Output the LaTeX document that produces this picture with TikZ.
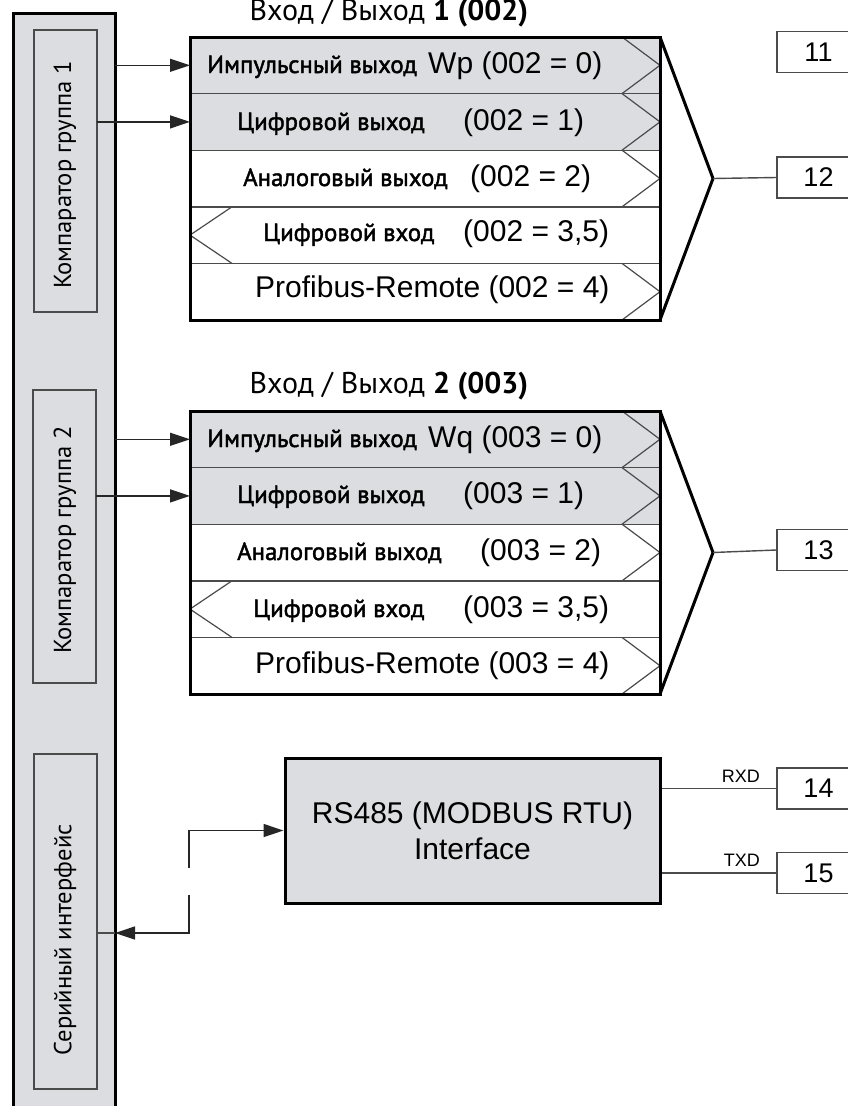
\documentclass[tikz,border=0pt]{standalone}
\usepackage{fontspec}
\setmainfont{Liberation Sans}
\newfontfamily\cyr{PT Sans}
\newfontfamily\cyrsb[FakeBold=1.8]{PT Sans}
\usetikzlibrary{positioning,arrows.meta}
\definecolor{boxgray}{RGB}{220,221,224}
\definecolor{linegray}{RGB}{75,75,75}
\tikzset{
  outerbox/.style={draw, line width=3pt, fill=boxgray, inner sep=0, outer sep=0},
  cmpbox/.style={draw=linegray, line width=1.4pt, fill=boxgray, inner sep=0, outer sep=0, minimum width=63},
  row/.style={draw=linegray, line width=1.4pt, minimum width=470, minimum height=56.6, inner sep=0, outer sep=0},
  grayrow/.style={row, fill=boxgray},
  chev/.style={draw=linegray, line width=1.2pt},
  frame/.style={line width=3pt, line join=miter},
  conn/.style={draw=black!85, line width=1.4pt, -{Triangle[length=20pt,width=13pt]}},
  wire/.style={draw=linegray, line width=1.4pt},
  term/.style={draw=linegray, line width=1.4pt, minimum width=83, minimum height=41, inner sep=0, font=\fontsize{27}{27}\selectfont},
  lbl/.style={inner sep=0, anchor=base west, font=\cyrsb\fontsize{24.8}{25}\selectfont},
  num/.style={inner sep=0, anchor=base west, font=\fontsize{30}{30}\selectfont},
  vlbl/.style={inner sep=0, rotate=90, font=\cyr\fontsize{24.6}{25}\selectfont},
  ttl/.style={inner sep=0, anchor=base, font=\cyr\fontsize{30}{30}\selectfont},
  sig/.style={inner sep=0, anchor=base east, font=\fontsize{18}{18}\selectfont}
}
\begin{document}
\begin{tikzpicture}[x=1pt,y=-1pt]
\useasboundingbox (0,0) rectangle (847,1106);
% left column
\node[outerbox, minimum width=102, minimum height=1110] (outer) at (64,568){};
\node[cmpbox, minimum height=282] (cmp1) at (65.5,171){};
\node[cmpbox, minimum height=293] (cmp2) at (64.5,536.5){};
\node[cmpbox, minimum height=335] (ser) at (65.5,921.5){};
\node[vlbl] (cmp1l) at (65,175){Компаратор группа 1};
\node[vlbl] (cmp2l) at (65,540){Компаратор группа 2};
\node[vlbl] (serl) at (65,940){Серийный интерфейс};
% block 002
\node[ttl] (ttl1) at (389,20){Вход / Выход \textbf{1 (002)}};
\node[grayrow] (pa0) at (425,65.3){};
\node[grayrow, below=0pt of pa0] (pa1){};
\node[row, below=0pt of pa1] (pa2){};
\node[row, below=0pt of pa2] (pa3){};
\node[row, below=0pt of pa3] (pa4){};
\draw[chev] ([xshift=-38pt]pa0.north east) -- (pa0.east) -- ([xshift=-38pt]pa0.south east);
\draw[chev] ([xshift=-38pt]pa1.north east) -- (pa1.east) -- ([xshift=-38pt]pa1.south east);
\draw[chev] ([xshift=-38pt]pa2.north east) -- (pa2.east) -- ([xshift=-38pt]pa2.south east);
\draw[chev] ([xshift=42pt]pa3.north west) -- (pa3.west) -- ([xshift=42pt]pa3.south west);
\draw[chev] ([xshift=-38pt]pa4.north east) -- (pa4.east) -- ([xshift=-38pt]pa4.south east);
\draw[frame] (pa0.north west) rectangle (pa4.south east);
\coordinate (fa) at ([xshift=53pt]pa2.east);
\draw[frame] (pa0.north east) -- (fa) -- (pa4.south east);
\node[lbl] (pa0l) at (207,73){Импульсный выход};
\node[num] (pa0r) at (428,73){Wp (002 = 0)};
\node[lbl] (pa1l) at (237,130){Цифровой выход};
\node[num] (pa1r) at (463,130){(002 = 1)};
\node[lbl] (pa2l) at (243,186){Аналоговый выход};
\node[num] (pa2r) at (470,186){(002 = 2)};
\node[lbl] (pa3l) at (263,241){Цифровой вход};
\node[num] (pa3r) at (463,241){(002 = 3,5)};
\node[num] (pa4r) at (255,297){Profibus-Remote (002 = 4)};
% block 003
\node[ttl] (ttl2) at (389,393){Вход / Выход \textbf{2 (003)}};
\node[grayrow] (pb0) at (425,439.3){};
\node[grayrow, below=0pt of pb0] (pb1){};
\node[row, below=0pt of pb1] (pb2){};
\node[row, below=0pt of pb2] (pb3){};
\node[row, below=0pt of pb3] (pb4){};
\draw[chev] ([xshift=-38pt]pb0.north east) -- (pb0.east) -- ([xshift=-38pt]pb0.south east);
\draw[chev] ([xshift=-38pt]pb1.north east) -- (pb1.east) -- ([xshift=-38pt]pb1.south east);
\draw[chev] ([xshift=-38pt]pb2.north east) -- (pb2.east) -- ([xshift=-38pt]pb2.south east);
\draw[chev] ([xshift=42pt]pb3.north west) -- (pb3.west) -- ([xshift=42pt]pb3.south west);
\draw[chev] ([xshift=-38pt]pb4.north east) -- (pb4.east) -- ([xshift=-38pt]pb4.south east);
\draw[frame] (pb0.north west) rectangle (pb4.south east);
\coordinate (fb) at ([xshift=53pt]pb2.east);
\draw[frame] (pb0.north east) -- (fb) -- (pb4.south east);
\node[lbl] (pb0l) at (207,447){Импульсный выход};
\node[num] (pb0r) at (428,447){Wq (003 = 0)};
\node[lbl] (pb1l) at (237,503){Цифровой выход};
\node[num] (pb1r) at (463,503){(003 = 1)};
\node[lbl] (pb2l) at (237,560){Аналоговый выход};
\node[num] (pb2r) at (480,560){(003 = 2)};
\node[lbl] (pb3l) at (253,617){Цифровой вход};
\node[num] (pb3r) at (463,617){(003 = 3,5)};
\node[num] (pb4r) at (255,673){Profibus-Remote (003 = 4)};
% RS485
\node[draw, line width=3pt, fill=boxgray, minimum width=375, minimum height=145, align=center, font=\fontsize{30}{36}\selectfont] (rs) at (472.5,830.5){RS485 (MODBUS RTU)\\Interface};
% terminals
\node[term] (t11) at (818.5,52){11};
\node[term] (t12) at (818.5,177.5){12};
\node[term] (t13) at (818.5,550){13};
\node[term] (t14) at (818.5,788.5){14};
\node[term] (t15) at (818.5,873){15};
\draw[wire] (fa) -- (t12.west);
\draw[wire] (fb) -- (t13.west);
\draw[wire] (rs.east |- t14) -- (t14.west);
\draw[wire] (rs.east |- t15) -- (t15.west);
\node[sig] (rxd) at (760,782){RXD};
\node[sig] (txd) at (760,866){TXD};
% arrows
\draw[conn] (outer.east |- pa0.west) -- (pa0.west);
\draw[conn] (cmp1.east |- pa1.west) -- (pa1.west);
\draw[conn] (outer.east |- pb0.west) -- (pb0.west);
\draw[conn] (cmp2.east |- pb1.west) -- (pb1.west);
\coordinate (sa) at (189,868);
\coordinate (sb) at (189,895);
\coordinate (sc) at (189,933);
\draw[conn] (sa) |- (rs.west);
\draw[conn] (sb) -- (sc) -- (outer.east |- sc);
\draw[wire] (outer.east |- sc) -- (ser.east |- sc);
\end{tikzpicture}
\end{document}
